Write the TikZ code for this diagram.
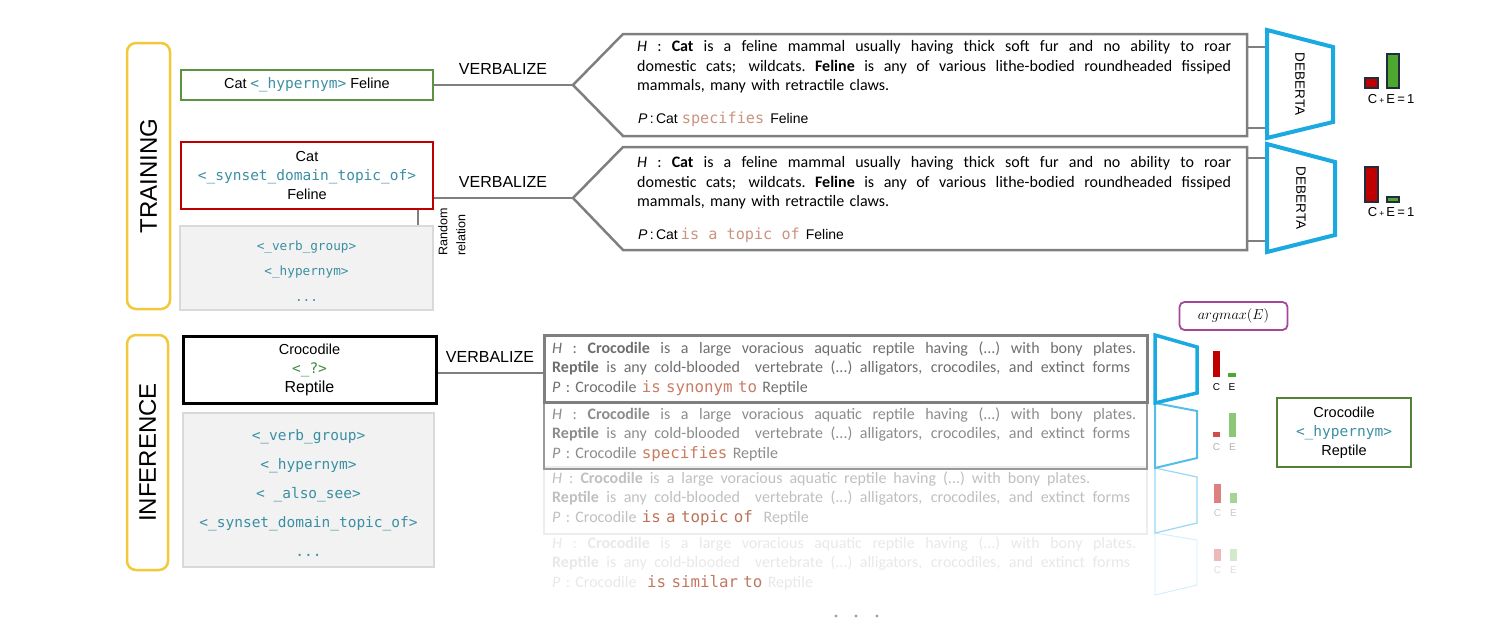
\documentclass[tikz,border=0pt]{standalone}
\usepackage{fontspec}
\setmainfont{Carlito}
\setmonofont{DejaVu Sans Mono}
\newfontfamily\af{Liberation Sans}
\definecolor{secy}{HTML}{F2C93A}
\definecolor{grn}{HTML}{5A9440}
\definecolor{rgrn}{HTML}{548235}
\definecolor{rd}{HTML}{C00000}
\definecolor{relc}{HTML}{3A8FA3}
\definecolor{qgrn}{HTML}{3D8B3D}
\definecolor{gfill}{HTML}{F2F2F2}
\definecolor{gline}{HTML}{D9D9D9}
\definecolor{pentc}{HTML}{7F7F7F}
\definecolor{debc}{HTML}{1BA9E1}
\definecolor{pcol}{HTML}{C9937F}
\definecolor{ra}{HTML}{CA7C64}
\definecolor{rb}{HTML}{C97C5E}
\definecolor{rc}{HTML}{BC7258}
\definecolor{rdd}{HTML}{C07862}
\definecolor{barR}{HTML}{C00000}
\definecolor{barG}{HTML}{4EA72E}
\definecolor{barO}{HTML}{1F2D3D}
\definecolor{purp}{HTML}{A3479B}
\definecolor{dotc}{HTML}{B09A90}
\newcommand\rl[1]{{\ttfamily\color{relc}#1}}
\newcommand\rli[2]{{\fontsize{15.8}{19.5}\selectfont\ttfamily\color{#1}#2}}
\newcommand\rlt[1]{{\fontsize{15.2}{19.5}\selectfont\ttfamily\color{pcol}#1}}
\newcommand\jl[2]{\leavevmode\hbox to #1{\spaceskip=\fontdimen2\font plus 1fil\xspaceskip=\fontdimen2\font plus 1fil\relax #2}}
\newcommand\fs{\rule{0pt}{12pt}}
\tikzset{
  conn/.style={draw=pentc, line width=2pt},
  sect/.style={draw=secy, line width=2.5pt, rounded corners=9pt, inner sep=0pt, font=\af\fontsize{24}{28}\selectfont},
  rbox/.style={line width=2.5pt, inner sep=0pt, align=center, font=\af\fontsize{14.5}{19}\selectfont},
  gbox/.style={fill=gfill, draw=gline, line width=2pt, inner sep=0pt, align=center},
  pentline/.style={draw=pentc, line width=2.5pt, line join=miter},
  debr/.style={draw=debc, line width=4pt, line join=miter},
  lbl/.style={font=\af\fontsize{16}{18}\selectfont, inner sep=0pt},
  txt/.style={inner sep=0pt, align=left, font=\fontsize{16}{19.5}\selectfont},
  ibox/.style={line width=2.5pt, inner sep=0pt, minimum width=603pt, minimum height=67pt, anchor=north west},
  barlab/.style={inner sep=0pt, font=\af\fontsize{10}{12}\selectfont},
}
\begin{document}
\begin{tikzpicture}[x=1pt,y=-1pt]
\useasboundingbox (0,0) rectangle (1512,643);

% ---------------- TRAINING ----------------
\node[sect, rotate=90, minimum width=266pt, minimum height=43pt] (train) at (148.5,176) {TRAINING};

\node[rbox, draw=grn, minimum width=252pt, minimum height=30pt] (g1) at (307,85) {Cat\hspace{3.5pt}\rl{<\_hypernym>} Feline};
\node[rbox, draw=rd, minimum width=252pt, minimum height=67pt] (r1) at (307,175.5) {Cat\\ \rl{<\_synset\_domain\_topic\_of>}\\ Feline};
\node[gbox, minimum width=253pt, minimum height=84pt, font=\fontsize{12.7}{25.5}\selectfont] (gr1) at (306.5,268) {\rule{0pt}{15pt}\rl{<\_verb\_group>}\\ \rl{<\_hypernym>}\\ \rl{...}};
\coordinate (rr) at (418,0);
\draw[conn] (r1.south -| rr) -- (gr1.north -| rr);
\node[inner sep=0pt, rotate=90, align=left, font=\af\fontsize{12.5}{18}\selectfont] (rand) at (452,232) {Random\\relation};

\coordinate (tip1) at (573,85);
\coordinate (tip2) at (573,198);
\draw[conn] (g1.east) -- (tip1);
\draw[conn] (r1.east |- tip2) -- (tip2);
\node[lbl] (vb1) at (503,69) {VERBALIZE};
\node[lbl] (vb2) at (503,182) {VERBALIZE};

\draw[pentline] (tip1) -- (623,34) -- (1247,34) -- (1247,136) -- (623,136) -- cycle;
\draw[pentline] (tip2) -- (623,147) -- (1247,147) -- (1247,250) -- (623,250) -- cycle;

\node[txt, anchor=north west, text width=594pt] (h1) at (637,39.5) {\jl{594pt}{\fs\textit{H} : \textbf{Cat} is a feline mammal usually having thick soft fur and no ability to roar}\\ \jl{594pt}{domestic cats; wildcats. \textbf{Feline} is any of various lithe-bodied roundheaded fissiped}\\ mammals, many with retractile claws.};
\node[inner sep=0pt, anchor=base west, font=\af\fontsize{14}{18}\selectfont] (p1) at (638,123) {\textit{P}\,:\,Cat\hspace{4pt}\rlt{specifies}\hspace{6pt}Feline};

\node[txt, anchor=north west, text width=594pt] (h2) at (637,155.5) {\jl{594pt}{\fs\textit{H} : \textbf{Cat} is a feline mammal usually having thick soft fur and no ability to roar}\\ \jl{594pt}{domestic cats; wildcats. \textbf{Feline} is any of various lithe-bodied roundheaded fissiped}\\ mammals, many with retractile claws.};
\node[inner sep=0pt, anchor=base west, font=\af\fontsize{14}{18}\selectfont] (p2) at (638,239) {\textit{P}\,:\,Cat\hspace{3pt}\rlt{is a topic of}\hspace{6pt}Feline};

% DEBERTA blocks
\draw[conn] (1247,47) -- (1267,47);
\draw[conn] (1247,128) -- (1267,128);
\draw[conn] (1247,158) -- (1267,158);
\draw[conn] (1247,241) -- (1267,241);
\draw[debr] (1267,30) -- (1333,47) -- (1333,122) -- (1267,138) -- cycle;
\draw[debr] (1267,144) -- (1335,162) -- (1335,235) -- (1267,252) -- cycle;
\node[inner sep=0pt, rotate=-90, font=\af\fontsize{13.5}{16}\selectfont] (d1) at (1300,84) {DEBERTA};
\node[inner sep=0pt, rotate=-90, font=\af\fontsize{13.5}{16}\selectfont] (d2) at (1301,198) {DEBERTA};

\filldraw[fill=barR, draw=barO, line width=1.2pt] (1365,78) rectangle (1378,88);
\filldraw[fill=barG, draw=barO, line width=1.2pt] (1387,54) rectangle (1399,88);
\filldraw[fill=barR, draw=barO, line width=1.2pt] (1365,167) rectangle (1378,202);
\filldraw[fill=barG, draw=barO, line width=1.2pt] (1387,197) rectangle (1399,202);
\node[inner sep=0pt, font=\af\fontsize{13}{15}\selectfont] (ce1) at (1391,99.5) {C\,{\fontsize{8.5}{8}\selectfont+}\,E\,=\,1};
\node[inner sep=0pt, font=\af\fontsize{13}{15}\selectfont] (ce2) at (1391,212.5) {C\,{\fontsize{8.5}{8}\selectfont+}\,E\,=\,1};

% ---------------- INFERENCE ----------------
\node[sect, rotate=90, minimum width=235pt, minimum height=41pt] (infer) at (147.5,452.5) {INFERENCE};
\node[rbox, draw=black, line width=3pt, minimum width=253pt, minimum height=67pt] (blk) at (309.5,369.5) {Crocodile\\ {\ttfamily\color{qgrn}<\_?>}\\ {\fontsize{16}{19}\selectfont Reptile}};
\node[gbox, minimum width=251pt, minimum height=154pt, font=\fontsize{14.5}{29}\selectfont] (gr2) at (308.5,490) {\rule{0pt}{16pt}\rl{<\_verb\_group>}\\ \rl{<\_hypernym>}\\ \rl{< \_also\_see>}\\ \rl{<\_synset\_domain\_topic\_of>}\\ \rl{...}};

\node[ibox, draw=white!93!black, line width=2pt] (i3) at (543,466) {};
\node[ibox, draw=white!60!black, line width=2.2pt] (i2) at (543,401) {};
\node[ibox, draw=pentc] (i1) at (543,334) {};
\coordinate (vb3c) at (0,373);
\draw[conn] (blk.east |- vb3c) -- (i1.west |- vb3c);
\node[lbl] (vb3) at (490,357) {VERBALIZE};

\node[txt, anchor=north west, text width=584pt, text=white!43!black] (ih1) at (552,341) {\jl{584pt}{\fs\textit{H} : \textbf{Crocodile} is a large voracious aquatic reptile having (...) with bony plates.}\\ \jl{578pt}{\textbf{Reptile} is any cold-blooded\ \ vertebrate (...) alligators, crocodiles, and extinct forms}\\ \textit{P} : Crocodile \rli{ra}{is synonym to} Reptile};
\node[txt, anchor=north west, text width=584pt, text=white!55!black] (ih2) at (552,407) {\jl{584pt}{\fs\textit{H} : \textbf{Crocodile} is a large voracious aquatic reptile having (...) with bony plates.}\\ \jl{578pt}{\textbf{Reptile} is any cold-blooded\ \ vertebrate (...) alligators, crocodiles, and extinct forms}\\ \textit{P} : Crocodile \rli{rb}{specifies} Reptile};
\node[txt, anchor=north west, text width=584pt, text=white!75!black] (ih3) at (552,471) {\jl{538pt}{\fs\textit{H} : \textbf{Crocodile} is a large voracious aquatic reptile having (...) with bony plates.}\\ \jl{578pt}{\textbf{Reptile} is any cold-blooded\ \ vertebrate (...) alligators, crocodiles, and extinct forms}\\ \textit{P} : Crocodile \rli{rc}{is a topic of}\ \ Reptile};
\node[txt, anchor=north west, text width=584pt, text=white!91!black] (ih4) at (552,536) {\jl{584pt}{\fs\textit{H} : \textbf{Crocodile} is a large voracious aquatic reptile having (...) with bony plates.}\\ \jl{578pt}{\textbf{Reptile} is any cold-blooded\ \ vertebrate (...) alligators, crocodiles, and extinct forms}\\ \textit{P} : Crocodile\ \ \rli{rdd}{is similar to} Reptile};

% inference DEBERTA
\draw[draw=debc!20!white, line width=0.9pt] (1155,533) -- (1197,540) -- (1197,585) -- (1155,595) -- cycle;
\draw[draw=debc!45!white, line width=1.2pt] (1155,468) -- (1197,477) -- (1197,523) -- (1155,533) -- cycle;
\draw[draw=debc!75!white, line width=2pt] (1155,403) -- (1197,411) -- (1197,458) -- (1155,468) -- cycle;
\draw[debr, line width=3.5pt] (1155,335) -- (1197,347) -- (1197,393) -- (1155,403) -- cycle;

\fill[barR] (1213,351) rectangle (1220,377);
\fill[barG] (1228,373) rectangle (1236,377);
\node[barlab, text=black] (c1) at (1216.5,387) {C};
\node[barlab, text=black] (e1) at (1232,387) {E};
\fill[barR!70!white] (1213,432) rectangle (1220,437);
\fill[barG!65!white] (1229,413) rectangle (1236,437);
\node[barlab, text=white!70!black] (c2) at (1216.5,447) {C};
\node[barlab, text=white!70!black] (e2) at (1232.5,447) {E};
\fill[barR!50!white] (1214,484) rectangle (1221,503);
\fill[barG!50!white] (1230,493) rectangle (1237,503);
\node[barlab, text=white!78!black] (c3) at (1217.5,513) {C};
\node[barlab, text=white!78!black] (e3) at (1233.5,513) {E};
\fill[barR!28!white] (1214,549) rectangle (1221,561);
\fill[barG!25!white] (1230,549) rectangle (1237,561);
\node[barlab, text=white!86!black] (c4) at (1217.5,570) {C};
\node[barlab, text=white!86!black] (e4) at (1233.5,570) {E};

\node[draw=purp, line width=1.8pt, rounded corners=5pt, minimum width=108pt, minimum height=28pt, inner sep=0pt, font=\fontsize{15.5}{17}\selectfont] (am) at (1233.5,316) {$argmax(E)$};

\node[rbox, draw=rgrn, minimum width=134pt, minimum height=69pt] (res) at (1344,432.5) {Crocodile\\ \rl{<\_hypernym>}\\ Reptile};

\fill[dotc] (836,616) circle (1.6);
\fill[dotc] (856,616) circle (1.6);
\fill[dotc] (877,616) circle (1.6);
\end{tikzpicture}
\end{document}
